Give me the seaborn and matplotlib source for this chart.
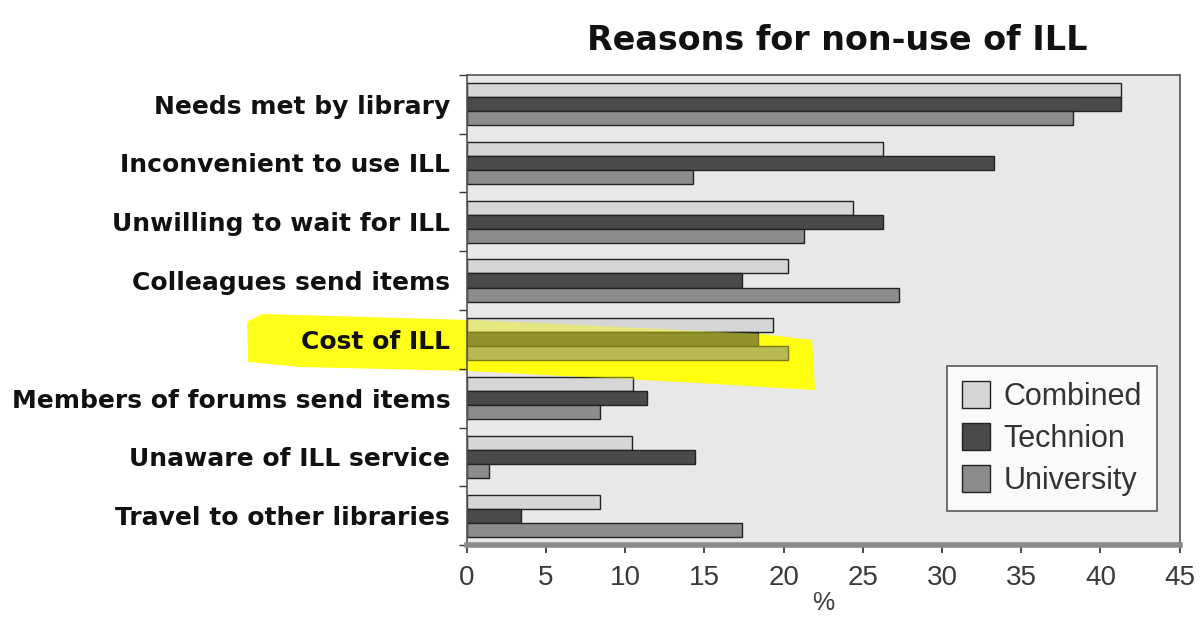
import numpy as np
import pandas as pd
import seaborn as sns
import matplotlib.pyplot as plt
from matplotlib.patches import Polygon

reasons = ['Needs met by library', 'Inconvenient to use ILL', 'Unwilling to wait for ILL',
           'Colleagues send items', 'Cost of ILL', 'Members of forums send items',
           'Unaware of ILL service', 'Travel to other libraries']
combined = [41.3, 26.3, 24.4, 20.3, 19.3, 10.5, 10.4, 8.4]
technion = [41.3, 33.3, 26.3, 17.4, 18.4, 11.4, 14.4, 3.4]
university = [38.3, 14.3, 21.3, 27.3, 20.3, 8.4, 1.4, 17.4]
groups = ['Combined', 'Technion', 'University']
colors = ['#d6d6d6', '#4a4a4a', '#8c8c8c']

df = pd.DataFrame({'reason': reasons * 3,
                   'group': np.repeat(groups, len(reasons)),
                   'pct': combined + technion + university})

sns.set_theme(style='white')
plt.rcParams['font.family'] = ['Liberation Sans', 'DejaVu Sans']

fig = plt.figure(figsize=(12, 6.28), dpi=100)
ax = fig.add_axes([0.389, 0.132, 0.594, 0.749])
ax.set_facecolor('#e8e8e8')

sns.barplot(data=df, x='pct', y='reason', hue='group', hue_order=groups, palette=colors,
            orient='h', width=0.72, edgecolor='#222222', linewidth=1, saturation=1, ax=ax)

ax.set_xlim(0, 45)
ax.set_xticks(range(0, 50, 5))
ax.set_ylim(len(reasons) - 0.5, -0.5)
ax.set_yticks(np.arange(-0.5, len(reasons), 1), minor=True)
ax.tick_params(axis='y', which='major', length=0, pad=12)
ax.tick_params(axis='y', which='minor', length=6, color='#333333', direction='out', left=True)
ax.tick_params(axis='x', length=6, color='#333333', direction='out', bottom=True,
               labelsize=20, labelcolor='#3a3a3a', pad=8)
for lab in ax.get_yticklabels():
    lab.set_fontfamily('DejaVu Sans')
    lab.set_fontweight('bold')
    lab.set_fontsize(18)
    lab.set_color('#111111')
for s in ax.spines.values():
    s.set_color('#555555')
    s.set_linewidth(1.2)
ax.spines['bottom'].set_color('#8a8a8a')
ax.spines['bottom'].set_linewidth(4)

ax.set_ylabel('')
ax.set_xlabel('%', fontsize=18, color='#3a3a3a', labelpad=0)
ax.set_title('Reasons for non-use of ILL', fontsize=24, fontweight='bold', pad=18,
             family='DejaVu Sans', color='#111111', x=0.52)

leg = ax.legend(loc='lower right', bbox_to_anchor=(0.99, 0.04), fontsize=22, frameon=True,
                fancybox=False, edgecolor='#333333', handlelength=0.9, handleheight=1.0,
                borderpad=0.5, labelspacing=0.35, handletextpad=0.45)
leg.get_frame().set_linewidth(1.2)
leg.get_frame().set_facecolor('white')
for t in leg.get_texts():
    t.set_color('#333333')

# yellow marker highlight around "Cost of ILL"
pts = [(247, 322), (262, 314), (470, 320), (560, 324), (680, 330), (760, 334), (812, 340),
       (815, 390), (700, 383), (470, 371), (300, 367), (248, 362)]
pts = [(x / 1200, 1 - y / 628) for x, y in pts]
ax.add_patch(Polygon(pts, closed=True, transform=fig.transFigure, clip_on=False,
                     facecolor='#ffff1a', edgecolor='none', zorder=0.5))
ax.add_patch(Polygon(pts, closed=True, transform=fig.transFigure, clip_on=True,
                     facecolor='#ffff00', edgecolor='none', alpha=0.4, zorder=2))

fig.savefig('out.png', dpi=100)
